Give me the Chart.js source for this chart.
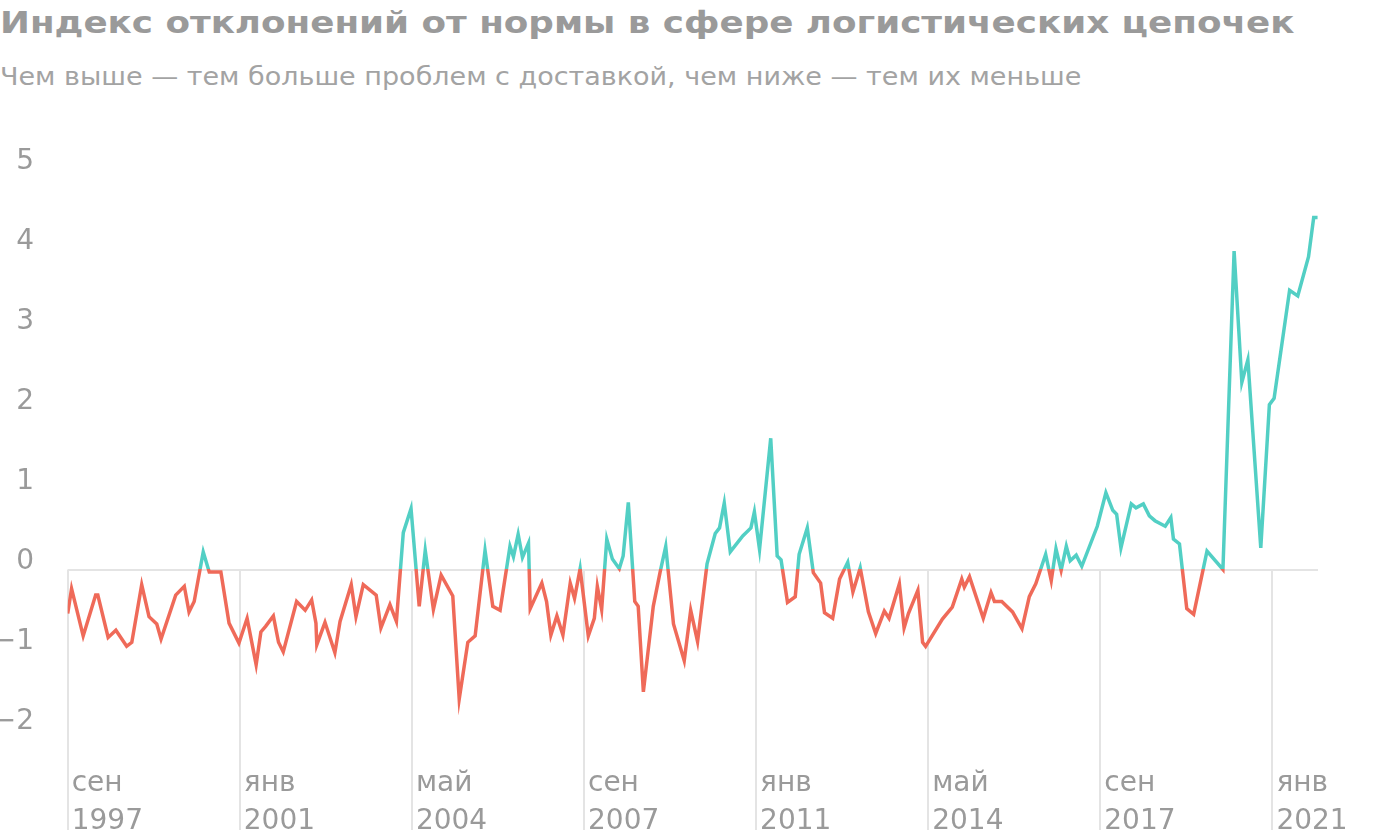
<!DOCTYPE html>
<html lang="ru">
<head>
<meta charset="utf-8">
<script src="https://cdn.jsdelivr.net/npm/chart.js@4.4.1/dist/chart.umd.min.js"></script>
<style>
  html, body { margin: 0; padding: 0; background: #fff; }
  body { width: 1400px; height: 840px; position: relative; overflow: hidden; font-family: "DejaVu Sans", sans-serif; }
  #title { position: absolute; left: 0; top: 8px; font-size: 30px; line-height: 30px; font-weight: bold; color: #9a9a9a; white-space: nowrap; transform: scaleX(1.19); transform-origin: 0 0; }
  #subtitle { position: absolute; left: 0; top: 64px; font-size: 25px; line-height: 25px; color: #a3a3a3; white-space: nowrap; transform: scaleX(1.08); transform-origin: 0 0; }
  #clip { position: absolute; left: 0; top: 0; width: 1400px; height: 830px; overflow: hidden; }
  #wrap { position: absolute; left: 0; top: 100px; width: 1400px; height: 740px; }
</style>
</head>
<body>
<div id="title">Индекс отклонений от нормы в сфере логистических цепочек</div>
<div id="subtitle">Чем выше — тем больше проблем с доставкой, чем ниже — тем их меньше</div>
<div id="clip"><div id="wrap"><canvas id="chart"></canvas></div></div>
<script>
// months counted from Sep 1997 (0) at the line's corners
const months = [
  0, 0.9, 3.6, 6.5, 7, 9.4, 11.2, 13.7, 14.9, 17.2, 18.9, 20.7, 21.7, 25.1, 27.1, 28.2, 29.4,
  31.5, 32.9, 35.6, 37.5, 39.8, 41.7, 43.8, 44.9, 46, 47.8, 49, 50.1, 53.2, 55.2, 56.7, 57.7,
  57.9, 59.8, 62.1, 63.3, 65.9, 67, 68.7, 71.7, 72.8, 74.9, 76.4, 78, 79.8, 81.7, 83.1, 85,
  86.8, 89.5, 91, 93, 94.7, 97, 98.8, 100.5, 102.8, 103.6, 104.7, 105.7, 107.1, 107.5, 110.2,
  111.3, 112.3, 113.7, 115.1, 116.8, 117.8, 119.1, 121, 122.4, 123.1, 124.1, 125.3, 126.6,
  128.2, 129.1, 130.3, 131.8, 132.6, 133.8, 136.1, 137.7, 139, 140.8, 143.3, 144.8, 146.4,
  148.6, 150.5, 151.5, 152.6, 154, 156.9, 158.8, 159.6, 160.8, 163.4, 164.9, 165.8, 167.3,
  169.1, 170, 171.9, 173.3, 175, 175.9, 177.8, 179.4, 181.3, 182.5, 184.2, 186.1, 187.8,
  189.8, 190.9, 193.3, 194.4, 195.4, 197.6, 198.7, 199.4, 203.3, 205.6, 207.8, 208.4, 209.6,
  212.8, 214.6, 215.4, 217.1, 219.6, 221.8, 223.5, 225, 227.3, 228.6, 229.7, 230.9, 232.1,
  233, 234.4, 235.7, 239.3, 241.3, 242.9, 243.8, 244.8, 247.2, 248.3, 250, 251.4, 252.7,
  255.1, 256.4, 257, 258.4, 260.1, 261.7, 264.8, 268.5, 271.1, 272.9, 274.3, 277.3, 279.3,
  280.4, 284, 285.9, 288.4, 289.6, 290.5
];
const values = [
  -0.55, -0.24, -0.83, -0.32, -0.32, -0.85, -0.76, -0.96, -0.91, -0.19, -0.59, -0.68, -0.87, -0.32, -0.21, -0.53, -0.40,
  0.22, -0.03, -0.03, -0.67, -0.92, -0.61, -1.19, -0.78, -0.71, -0.58, -0.91, -1.03, -0.40, -0.51, -0.38, -0.67,
  -0.94, -0.66, -1.04, -0.65, -0.19, -0.59, -0.19, -0.32, -0.73, -0.44, -0.65, 0.46, 0.76, -0.46, 0.24, -0.50,
  -0.07, -0.33, -1.62, -0.91, -0.83, 0.24, -0.46, -0.51, 0.29, 0.16, 0.44, 0.15, 0.33, -0.49, -0.17,
  -0.40, -0.82, -0.58, -0.82, -0.17, -0.36, 0.01, -0.83, -0.61, -0.21, -0.50, 0.38, 0.13,
  0.01, 0.17, 0.84, -0.40, -0.46, -1.53, -0.46, -0.03, 0.29, -0.68, -1.14, -0.51, -0.90,
  0.07, 0.45, 0.52, 0.83, 0.22, 0.42, 0.52, 0.72, 0.25, 1.64, 0.17, 0.12, -0.41,
  -0.34, 0.19, 0.52, -0.04, -0.17, -0.54, -0.61, -0.12, 0.09, -0.28, 0.02, -0.53, -0.80,
  -0.52, -0.61, -0.18, -0.73, -0.55, -0.26, -0.91, -0.96, -0.62, -0.47, -0.12, -0.22, -0.09,
  -0.61, -0.29, -0.40, -0.40, -0.53, -0.74, -0.34, -0.18, 0.19, -0.14, 0.26, -0.01, 0.29,
  0.11, 0.18, 0.04, 0.54, 0.96, 0.74, 0.69, 0.27, 0.82, 0.77, 0.82, 0.67, 0.61,
  0.54, 0.65, 0.38, 0.32, -0.49, -0.56, 0.23, 0.00, 3.98, 2.34, 2.62, 0.27, 2.06,
  2.14, 3.49, 3.42, 3.91, 4.40, 4.40
];

const tickMonths = [0, 40, 80, 120, 160, 200, 240, 280];
const tickMonthNames = ['сен', 'янв', 'май', 'сен', 'янв', 'май', 'сен', 'янв'];
const tickYears = ['1997', '2001', '2004', '2007', '2011', '2014', '2017', '2021'];
const yTicks = [-2, -1, 0, 1, 2, 3, 4, 5];

const RED = '#ef6a59';
const TEAL = '#52cfc4';
const GRID = '#e4e4e4';
const TEXT = '#9a9a9a';
const FONT = '"DejaVu Sans", sans-serif';

// red below zero, teal above: hard stop at the zero pixel
function lineColor(context) {
  const chart = context.chart;
  const area = chart.chartArea;
  if (!area) return RED;
  const zero = chart.scales.y.getPixelForValue(0);
  const stop = Math.min(1, Math.max(0, (zero - area.top) / (area.bottom - area.top)));
  const g = chart.ctx.createLinearGradient(0, area.top, 0, area.bottom);
  g.addColorStop(0, TEAL);
  g.addColorStop(stop, TEAL);
  g.addColorStop(stop, RED);
  g.addColorStop(1, RED);
  return g;
}

// vertical tick lines run from the zero line down past the labels
const tickLines = {
  id: 'tickLines',
  beforeDatasetsDraw(chart) {
    const { ctx, scales: { x, y } } = chart;
    const top = y.getPixelForValue(0);
    ctx.save();
    ctx.strokeStyle = GRID;
    ctx.lineWidth = 2;
    x.ticks.forEach(t => {
      const px = Math.round(x.getPixelForValue(t.value));
      ctx.beginPath();
      ctx.moveTo(px, top);
      ctx.lineTo(px, chart.height);
      ctx.stroke();
    });
    ctx.restore();
  }
};

new Chart(document.getElementById('chart'), {
  type: 'line',
  data: {
    datasets: [{
      data: months.map((m, i) => ({ x: m, y: values[i] })),
      borderColor: lineColor,
      borderWidth: 3.5,
      pointRadius: 0,
      tension: 0,
      fill: false
    }]
  },
  options: {
    responsive: true,
    maintainAspectRatio: false,
    animation: false,
    layout: { padding: { top: 37.5, right: 82, bottom: 0, left: 0 } },
    plugins: { legend: { display: false }, tooltip: { enabled: false } },
    scales: {
      x: {
        type: 'linear',
        min: 0,
        max: 290.6,
        afterBuildTicks: axis => { axis.ticks = tickMonths.map(v => ({ value: v })); },
        afterFit: axis => {
          axis.height = 78.5;
          axis.paddingLeft = 0;
          axis.paddingRight = 0;
        },
        grid: { display: false },
        border: { display: false },
        ticks: {
          autoSkip: false,
          maxRotation: 0,
          align: 'start',
          labelOffset: 4,
          padding: -5,
          color: TEXT,
          font: { family: FONT, size: 28, lineHeight: '38px' },
          callback: v => {
            const i = tickMonths.indexOf(v);
            return i < 0 ? '' : [tickMonthNames[i], tickYears[i]];
          }
        }
      },
      y: {
        min: -2.4,
        max: 5.4,
        afterBuildTicks: axis => { axis.ticks = yTicks.map(v => ({ value: v })); },
        afterFit: axis => {
          axis.width = 67.7;
          axis.paddingTop = 0;
          axis.paddingBottom = 0;
        },
        grid: {
          drawTicks: false,
          lineWidth: 2,
          color: c => (c.tick && c.tick.value === 0 ? GRID : 'rgba(0,0,0,0)')
        },
        border: { display: false },
        ticks: {
          padding: 33.7,
          labelOffset: -8,
          color: TEXT,
          font: { family: FONT, size: 28 },
          callback: v => String(v).replace('-', '\u2212')
        }
      }
    }
  },
  plugins: [tickLines]
});
</script>
</body>
</html>
